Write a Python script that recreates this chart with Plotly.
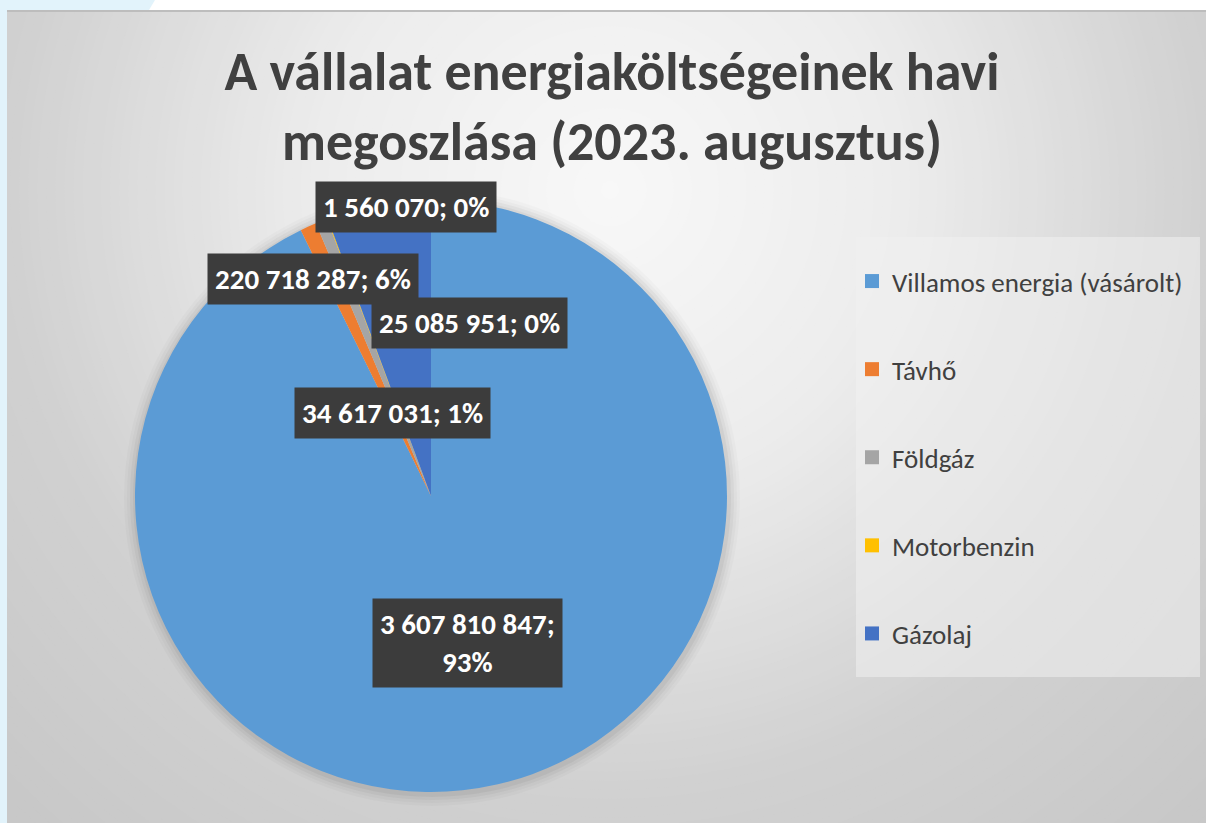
import plotly.graph_objects as go

# ---- data ----
categories = ["Villamos energia (vásárolt)", "Távhő", "Földgáz", "Motorbenzin", "Gázolaj"]
values = [3607810847, 34617031, 25085951, 1560070, 220718287]
pct_labels = ["93%", "1%", "0%", "0%", "6%"]
colors = ["#5B9BD5", "#ED7D31", "#A5A5A5", "#FFC000", "#4472C4"]
title_text = "A vállalat energiaköltségeinek havi<br>megoszlása (2023. augusztus)"

W, H = 1206, 823
FONT = "Calibri, Carlito, Lato, sans-serif"

def px(x):
    return x / W

def py(y):
    return 1 - y / H

# pie geometry (pixels)
cx, cy, r = 431, 496, 296

# label anchor positions (pixels), same order as categories
label_pos = [(467, 643), (392, 413), (469, 323), (406, 207), (313, 279)]


def fmt(v):
    return f"{v:,}".replace(",", " ")

shapes = []
# radial gradient background
gcx, gcy = 610, 190
N = 110
maxr = 1000
def shade(d):
    stops = [(0, 248), (300, 236), (600, 209), (1000, 195)]
    for (d0, c0), (d1, c1) in zip(stops[:-1], stops[1:]):
        if d <= d1:
            t = (d - d0) / (d1 - d0)
            return c0 + (c1 - c0) * t
    return stops[-1][1]

shapes.append(dict(type="rect", xref="paper", yref="paper", x0=0, x1=1, y0=0, y1=1,
                   fillcolor="rgb(195,195,195)", line_width=0, layer="below"))
for i in range(N):
    rr = maxr * (1 - i / N)
    c = shade(rr)
    shapes.append(dict(type="circle", xref="paper", yref="paper",
                       x0=px(gcx - rr), x1=px(gcx + rr), y0=py(gcy + rr), y1=py(gcy - rr),
                       fillcolor=f"rgb({c:.1f},{c:.1f},{c:.1f})", line_width=0, layer="below"))

# pie soft shadow
for k, a in [(12, 0.02), (9, 0.025), (6, 0.035), (3, 0.045)]:
    shapes.append(dict(type="circle", xref="paper", yref="paper",
                       x0=px(cx - r - k + 1), x1=px(cx + r + k + 1), y0=py(cy + r + k + 2), y1=py(cy - r - k + 1),
                       fillcolor=f"rgba(0,0,0,{a})", line_width=0, layer="below"))

# legend background box
shapes.append(dict(type="rect", xref="paper", yref="paper",
                   x0=px(856), x1=px(1200), y0=py(677), y1=py(237),
                   fillcolor="rgba(240,240,240,0.55)", line_width=0, layer="below"))

# outer slide areas (masks)
shapes.append(dict(type="rect", xref="paper", yref="paper", x0=0, x1=1, y0=py(10), y1=1,
                   fillcolor="white", line_width=0, layer="below"))
shapes.append(dict(type="rect", xref="paper", yref="paper", x0=0, x1=px(7), y0=0, y1=1,
                   fillcolor="#E2F3FB", line_width=0, layer="below"))
shapes.append(dict(type="path", xref="paper", yref="paper",
                   path=f"M 0 1 L {px(155)} 1 L {px(149)} {py(10)} L 0 {py(10)} Z",
                   fillcolor="#E2F3FB", line_width=0, layer="below"))
shapes.append(dict(type="line", xref="paper", yref="paper", x0=px(7), x1=1, y0=py(11), y1=py(11),
                   line=dict(color="#BDBDBD", width=2), layer="below"))

fig = go.Figure()
fig.add_trace(go.Pie(
    labels=categories, values=values, sort=False, direction="clockwise", rotation=0,
    marker=dict(colors=colors, line=dict(width=0)),
    textinfo="none", showlegend=False,
    domain=dict(x=[px(cx - r), px(cx + r)], y=[py(cy + r), py(cy - r)]),
    hovertemplate="%{label}: %{value}<extra></extra>",
))

# legend entries (one per category, separate groups for spacing)
for name, col in zip(categories, colors):
    fig.add_trace(go.Scatter(x=[None], y=[None], mode="markers", name=name,
                             legendgroup=name,
                             marker=dict(symbol="square", size=14, color=col),
                             hoverinfo="skip"))

annotations = []
for i, (name, v, p) in enumerate(zip(categories, values, pct_labels)):
    x, y = label_pos[i]
    txt = f"{fmt(v)};<br>{p}" if i == 0 else f"{fmt(v)}; {p}"
    annotations.append(dict(x=px(x), y=py(y), xref="paper", yref="paper", text=f"<b>{txt}</b>",
                            showarrow=False, bgcolor="#3C3C3C", borderpad=7,
                            font=dict(family=FONT, size=29, color="white"),
                            xanchor="center", yanchor="middle", align="center"))

fig.update_layout(
    width=W, height=H,
    margin=dict(l=0, r=0, t=0, b=0),
    paper_bgcolor="white", plot_bgcolor="rgba(0,0,0,0)",
    title=dict(text=f"<b>{title_text}</b>", x=px(612), xanchor="center", y=py(90), yanchor="middle",
               font=dict(family=FONT, size=54, color="#404040")),
    xaxis=dict(visible=False), yaxis=dict(visible=False),
    shapes=shapes, annotations=annotations,
    legend=dict(x=px(852), y=py(257), xanchor="left", yanchor="top",
                bgcolor="rgba(0,0,0,0)", tracegroupgap=50, itemwidth=30,
                font=dict(family=FONT, size=27, color="#404040")),
    showlegend=True,
)

fig.write_html("out.html", config={"displayModeBar": False},
               post_script="document.body.style.margin='0';")
